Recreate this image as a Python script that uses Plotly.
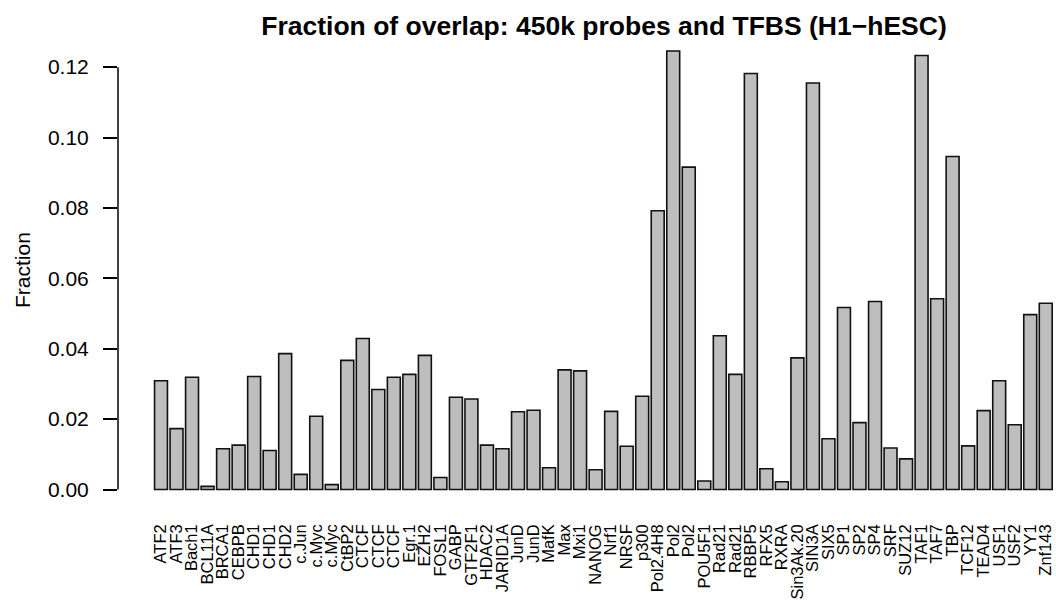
import plotly.graph_objects as go

# Transcription factor ChIP-seq sets (H1-hESC), in plotting order
tf_labels = [
    "ATF2", "ATF3", "Bach1", "BCL11A", "BRCA1", "CEBPB", "CHD1", "CHD1", "CHD2",
    "c.Jun", "c.Myc", "c.Myc", "CtBP2", "CTCF", "CTCF", "CTCF", "Egr.1", "EZH2",
    "FOSL1", "GABP", "GTF2F1", "HDAC2", "JARID1A", "JunD", "JunD", "MafK", "Max",
    "Mxi1", "NANOG", "Nrf1", "NRSF", "p300", "Pol2.4H8", "Pol2", "Pol2", "POU5F1",
    "Rad21", "Rad21", "RBBP5", "RFX5", "RXRA", "Sin3Ak.20", "SIN3A", "SIX5", "SP1",
    "SP2", "SP4", "SRF", "SUZ12", "TAF1", "TAF7", "TBP", "TCF12", "TEAD4", "USF1",
    "USF2", "YY1", "Znf143",
]

# Fraction of 450k probes overlapping each TFBS set
fractions = [
    0.0309, 0.0173, 0.0319, 0.0009, 0.0116, 0.0126, 0.0321, 0.0111, 0.0386,
    0.0043, 0.0208, 0.0014, 0.0367, 0.0429, 0.0284, 0.0319, 0.0327, 0.0381,
    0.0034, 0.0262, 0.0257, 0.0126, 0.0116, 0.0221, 0.0225, 0.0062, 0.0340,
    0.0337, 0.0056, 0.0222, 0.0123, 0.0265, 0.0792, 0.1246, 0.0916, 0.0024,
    0.0437, 0.0327, 0.1182, 0.0059, 0.0022, 0.0374, 0.1155, 0.0144, 0.0517,
    0.0190, 0.0534, 0.0118, 0.0087, 0.1233, 0.0542, 0.0946, 0.0124, 0.0224,
    0.0309, 0.0184, 0.0497, 0.0529,
]

y_ticks = [0.00, 0.02, 0.04, 0.06, 0.08, 0.10, 0.12]
y_tick_text = ["0.00", "0.02", "0.04", "0.06", "0.08", "0.10", "0.12"]

positions = list(range(len(tf_labels)))
FONT = "Liberation Sans, Arial, Helvetica, sans-serif"

fig = go.Figure(
    go.Bar(
        x=positions,
        y=fractions,
        width=0.833,
        marker=dict(color="#bebebe", line=dict(color="#111111", width=1.6)),
        hoverinfo="skip",
    )
)

fig.update_layout(
    width=1056,
    height=601,
    margin=dict(l=118, r=0, t=33, b=94),
    paper_bgcolor="white",
    plot_bgcolor="white",
    showlegend=False,
    font=dict(family=FONT, color="black"),
    title=dict(
        text="<b>Fraction of overlap: 450k probes and TFBS (H1\u2212hESC)</b>",
        font=dict(family=FONT, size=26.5, color="black"),
        x=604 / 1056,
        xref="container",
        xanchor="center",
        y=1 - 26 / 601,
        yref="container",
        yanchor="middle",
    ),
    xaxis=dict(
        range=[-2.77, 57.66],
        tickmode="array",
        tickvals=positions,
        ticktext=tf_labels,
        tickangle=-90,
        tickfont=dict(family=FONT, size=16.5, color="black"),
        ticks="",
        showline=False,
        showgrid=False,
        zeroline=False,
        ticklabelstandoff=13,
    ),
    yaxis=dict(
        range=[-0.00497, 0.1297],
        tickmode="array",
        tickvals=y_ticks,
        ticktext=y_tick_text,
        tickfont=dict(family=FONT, size=21, color="black"),
        ticks="outside",
        ticklen=14,
        tickwidth=1.5,
        tickcolor="black",
        showline=False,
        showgrid=False,
        zeroline=False,
        ticklabelstandoff=10,
    ),
    shapes=[
        # y-axis line spanning only the tick range
        dict(
            type="line",
            xref="paper", yref="y",
            x0=0, x1=0, y0=y_ticks[0], y1=y_ticks[-1],
            line=dict(color="black", width=1.5),
        )
    ],
    annotations=[
        dict(
            text="Fraction",
            xref="paper", yref="paper",
            x=(22 - 118) / 938, y=0.5,
            xanchor="center", yanchor="middle",
            textangle=-90,
            showarrow=False,
            font=dict(family=FONT, size=21, color="black"),
        )
    ],
)

fig.write_html("out.html")
